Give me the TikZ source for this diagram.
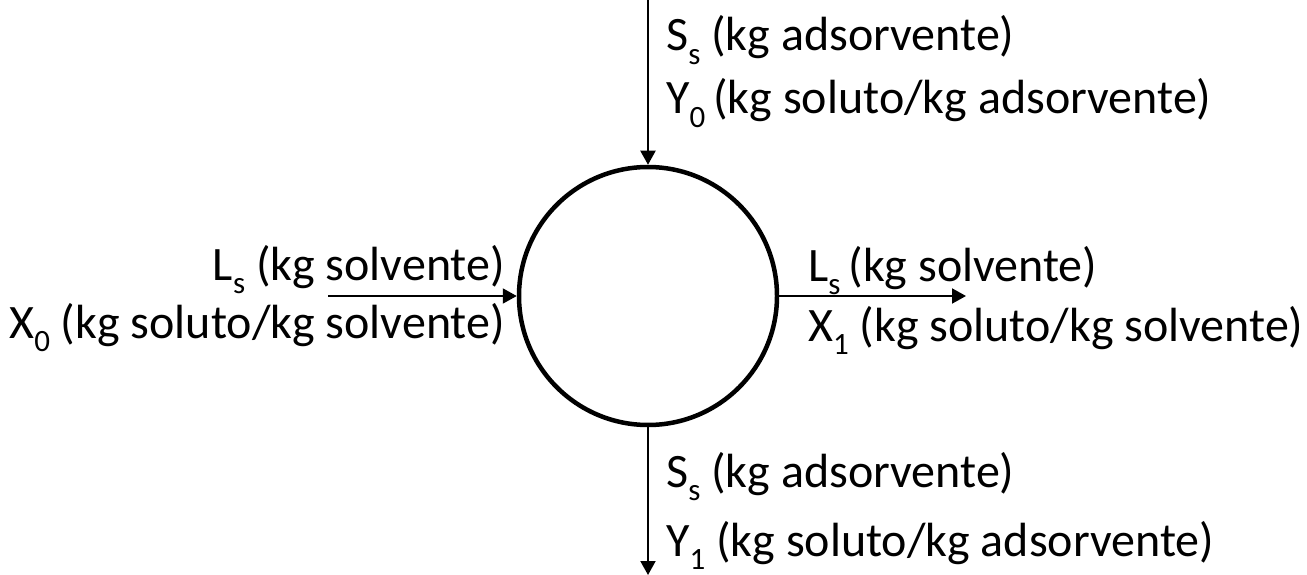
\documentclass[tikz,border=0pt]{standalone}
\usepackage{fontspec}
\setmainfont{Carlito}
\usetikzlibrary{arrows.meta}
\newcommand{\lowsub}[1]{\raisebox{-0.28em}{\fontsize{31}{36}\selectfont #1}}
\tikzset{
  lbl/.style={font=\fontsize{48}{56}\selectfont, inner sep=0pt},
  flow/.style={line width=2pt, -{Triangle[length=14pt,width=15pt]}},
}
\begin{document}
\begin{tikzpicture}[x=1pt,y=-1pt]
\useasboundingbox (0,0) rectangle (1307,575);
\node[circle, draw, line width=4.5pt, minimum size=258pt, inner sep=0pt] (c) at (648,296) {};
\coordinate (topin) at (648,0);
\coordinate (botout) at (648,575);
\coordinate (leftin) at (328,296);
\coordinate (rightout) at (966,296);
\draw[flow] (topin) -- (c.north);
\draw[flow] (c.south) -- (botout);
\draw[flow] (leftin) -- (c.west);
\draw[flow] (c.east) -- (rightout);
\node[lbl, anchor=base west] (t1) at (666,51) {S\lowsub{s} (kg adsorvente)};
\node[lbl, anchor=base west] (t2) at (666,114) {Y\lowsub{0}\,(kg soluto/kg adsorvente)};
\node[lbl, anchor=base east] (l1) at (505,280) {L\lowsub{s} (kg solvente)};
\node[lbl, anchor=base east] (l2) at (505,338) {X\lowsub{0} (kg soluto/kg solvente)};
\node[lbl, anchor=base west] (r1) at (808,281) {L\lowsub{s}\,(kg solvente)};
\node[lbl, anchor=base west] (r2) at (808,341) {X\lowsub{1} (kg soluto/kg solvente)};
\node[lbl, anchor=base west] (b1) at (666,487) {S\lowsub{s} (kg adsorvente)};
\node[lbl, anchor=base west] (b2) at (666,556) {Y\lowsub{1} (kg soluto/kg adsorvente)};
\end{tikzpicture}
\end{document}
